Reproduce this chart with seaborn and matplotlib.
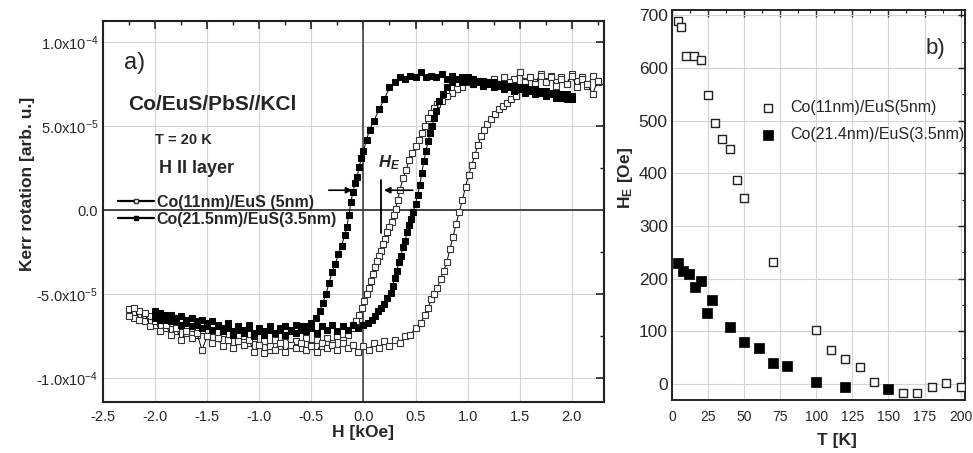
import numpy as np
import matplotlib
matplotlib.use("Agg")
import matplotlib.pyplot as plt
import pandas as pd
import seaborn as sns
from matplotlib.ticker import MultipleLocator

# ---- panel a) Kerr loops, M in units of 1e-5 ----
# Co(11nm)/EuS(5nm), field sweep down
h_11_dn = [2.25, 2.2, 2.15, 2.1, 2.05, 2.0, 1.95, 1.9, 1.85, 1.8, 1.75, 1.7, 1.65, 1.6, 1.55, 1.5, 1.45, 1.4,
           1.35, 1.3, 1.25, 1.2, 1.15, 1.1, 1.05, 1.0, 0.95, 0.9, 0.85, 0.8, 0.75, 0.71, 0.68, 0.65, 0.62, 0.59,
           0.56, 0.53, 0.5, 0.47, 0.44, 0.41, 0.38, 0.35, 0.33, 0.31, 0.29, 0.27, 0.25, 0.23, 0.21, 0.19, 0.17,
           0.15, 0.13, 0.11, 0.09, 0.07, 0.05, 0.03, 0.01, -0.01, -0.04, -0.07, -0.1, -0.15, -0.2, -0.25, -0.3,
           -0.35, -0.4, -0.45, -0.5, -0.55, -0.6, -0.65, -0.7, -0.75, -0.8, -0.85, -0.9, -0.95, -1.0, -1.05,
           -1.1, -1.15, -1.2, -1.25, -1.3, -1.35, -1.4, -1.45, -1.5, -1.55, -1.6, -1.65, -1.7, -1.75, -1.8,
           -1.85, -1.9, -1.95, -2.0, -2.05, -2.1, -2.15, -2.2, -2.25]
m_11_dn = [7.6, 8.0, 7.4, 7.9, 7.7, 8.1, 7.5, 7.9, 7.6, 8.0, 7.7, 8.1, 7.6, 7.9, 7.7, 8.2, 7.8, 7.6,
           7.9, 7.5, 7.8, 7.6, 7.4, 7.7, 7.5, 7.6, 7.3, 7.2, 7.0, 6.8, 6.5, 6.3, 6.1, 5.8, 5.5, 5.0,
           4.6, 4.2, 3.8, 3.4, 3.0, 2.4, 1.9, 1.2, 0.6, 0.1, -0.3, -0.7, -1.0, -1.3, -1.7, -2.0, -2.4,
           -2.7, -3.0, -3.4, -3.8, -4.2, -4.6, -5.0, -5.4, -5.8, -6.2, -6.6, -7.0, -7.4, -7.7, -7.5, -7.9,
           -7.6, -8.1, -7.7, -8.0, -7.6, -8.2, -7.8, -8.0, -7.5, -8.1, -7.7, -8.3, -7.8, -8.0, -7.6,
           -7.9, -7.5, -7.8, -7.4, -7.7, -7.3, -7.6, -7.2, -7.5, -7.1, -7.4, -7.0, -7.3, -6.9, -7.2,
           -6.7, -7.0, -6.5, -6.8, -6.3, -6.6, -6.0, -6.4, -5.9]
# Co(11nm)/EuS(5nm), field sweep up
h_11_up = [-2.25, -2.2, -2.15, -2.1, -2.05, -2.0, -1.95, -1.9, -1.85, -1.8, -1.75, -1.7, -1.65, -1.6, -1.55,
           -1.5, -1.45, -1.4, -1.35, -1.3, -1.25, -1.2, -1.15, -1.1, -1.05, -1.0, -0.95, -0.9, -0.85, -0.8,
           -0.75, -0.7, -0.65, -0.6, -0.55, -0.5, -0.45, -0.4, -0.35, -0.3, -0.25, -0.2, -0.15, -0.1, -0.05,
           0.0, 0.05, 0.1, 0.15, 0.2, 0.25, 0.3, 0.35, 0.4, 0.45, 0.5, 0.55, 0.59, 0.62, 0.65, 0.68, 0.71,
           0.74, 0.77, 0.8, 0.83, 0.86, 0.89, 0.92, 0.95, 0.98, 1.01, 1.04, 1.07, 1.1, 1.13, 1.16, 1.19, 1.22,
           1.26, 1.3, 1.34, 1.38, 1.42, 1.46, 1.5, 1.55, 1.6, 1.65, 1.7, 1.75, 1.8, 1.85, 1.9, 1.95, 2.0,
           2.05, 2.1, 2.15, 2.2, 2.25]
m_11_up = [-6.3, -5.8, -6.5, -6.1, -6.9, -6.6, -7.2, -6.8, -7.4, -7.0, -7.7, -7.2, -7.6, -7.3, -8.3,
           -7.5, -7.9, -7.6, -8.1, -7.7, -8.2, -7.8, -8.0, -7.7, -8.4, -8.0, -8.5, -8.1, -8.3, -7.9,
           -8.4, -8.0, -8.2, -7.9, -8.3, -8.1, -8.4, -7.9, -8.2, -8.0, -8.3, -7.9, -8.2, -8.0, -8.4,
           -8.1, -8.3, -7.9, -8.2, -7.8, -8.1, -7.7, -7.9, -7.5, -7.4, -7.0, -6.7, -6.2, -5.8, -5.3, -5.0, -4.6,
           -4.1, -3.6, -3.1, -2.3, -1.6, -0.8, -0.1, 0.6, 1.4, 2.1, 2.7, 3.3, 3.9, 4.4, 4.8, 5.1, 5.4,
           5.7, 6.0, 6.2, 6.4, 6.6, 6.8, 7.2, 7.6, 7.9, 7.5, 8.0, 7.6, 7.9, 7.4, 7.8, 7.5, 8.0,
           7.3, 7.8, 7.5, 6.9, 7.7]

# Co(21.5nm)/EuS(3.5nm), field sweep down
h_21_dn = [2.0, 1.95, 1.9, 1.85, 1.8, 1.75, 1.7, 1.65, 1.6, 1.55, 1.5, 1.45, 1.4, 1.35, 1.3, 1.25, 1.2, 1.15,
           1.1, 1.05, 1.0, 0.95, 0.9, 0.85, 0.8, 0.75, 0.7, 0.65, 0.6, 0.55, 0.5, 0.45, 0.4, 0.35, 0.3, 0.25,
           0.2, 0.15, 0.1, 0.06, 0.03, 0.0, -0.02, -0.04, -0.06, -0.08, -0.1, -0.12, -0.14, -0.16, -0.18,
           -0.21, -0.24, -0.27, -0.3, -0.33, -0.36, -0.39, -0.42, -0.46, -0.5, -0.55, -0.6, -0.65, -0.7,
           -0.75, -0.8, -0.85, -0.9, -0.95, -1.0, -1.05, -1.1, -1.15, -1.2, -1.25, -1.3, -1.35, -1.4, -1.45,
           -1.5, -1.55, -1.6, -1.65, -1.7, -1.75, -1.8, -1.85, -1.9, -1.95, -2.0]
m_21_dn = [6.6, 6.9, 6.7, 7.0, 6.9, 7.1, 7.0, 7.2, 7.1, 7.3, 7.2, 7.4, 7.3, 7.5, 7.4, 7.6, 7.5, 7.7,
           7.6, 7.8, 7.7, 7.9, 7.8, 8.0, 7.8, 8.1, 7.9, 8.0, 7.9, 8.2, 7.9, 8.0, 7.8, 7.9, 7.6, 7.3,
           6.6, 6.0, 5.3, 4.8, 4.2, 3.5, 3.1, 2.6, 2.0, 1.6, 1.1, 0.5, -0.3, -1.0, -1.5,
           -2.1, -2.6, -3.2, -3.7, -4.3, -5.0, -5.5, -6.0, -6.4, -6.7, -6.9, -7.1, -6.8, -7.2,
           -6.9, -7.1, -7.3, -6.9, -7.2, -7.0, -7.3, -6.8, -7.1, -6.9, -7.2, -6.7, -7.0, -6.8, -6.6,
           -6.9, -6.5, -6.8, -6.4, -6.7, -6.3, -6.6, -6.2, -6.5, -6.1, -6.4]
# Co(21.5nm)/EuS(3.5nm), field sweep up
h_21_up = [-2.0, -1.95, -1.9, -1.85, -1.8, -1.75, -1.7, -1.65, -1.6, -1.55, -1.5, -1.45, -1.4, -1.35, -1.3,
           -1.25, -1.2, -1.15, -1.1, -1.05, -1.0, -0.95, -0.9, -0.85, -0.8, -0.75, -0.7, -0.65, -0.6, -0.55,
           -0.5, -0.45, -0.4, -0.35, -0.3, -0.25, -0.2, -0.15, -0.1, -0.05, 0.0, 0.04, 0.08, 0.11, 0.14,
           0.17, 0.2, 0.23, 0.26, 0.28, 0.3, 0.32, 0.34, 0.36, 0.38, 0.4, 0.42, 0.44, 0.46, 0.48, 0.5,
           0.52, 0.54, 0.56, 0.58, 0.6, 0.62, 0.64, 0.66, 0.68, 0.7, 0.73, 0.76, 0.8, 0.85, 0.9, 0.95,
           1.0, 1.05, 1.1, 1.15, 1.2, 1.25, 1.3, 1.35, 1.4, 1.45, 1.5, 1.55, 1.6, 1.65, 1.7, 1.75, 1.8,
           1.85, 1.9, 1.95, 2.0]
m_21_up = [-6.0, -6.5, -6.2, -6.6, -6.4, -6.8, -6.5, -6.9, -6.6, -7.0, -6.7, -7.1, -6.9, -7.2, -7.0,
           -7.4, -7.1, -7.3, -7.0, -7.5, -7.2, -7.4, -7.1, -7.3, -7.0, -7.4, -7.1, -7.3, -6.9, -7.2,
           -7.0, -7.3, -6.9, -7.1, -6.8, -7.2, -6.9, -7.1, -6.8, -7.0, -6.8, -6.7, -6.5, -6.3, -6.0,
           -5.8, -5.6, -5.2, -4.9, -4.5, -4.0, -3.6, -3.1, -2.7, -2.2, -1.8, -1.3, -0.9, -0.5, -0.1, 0.4,
           0.9, 1.5, 2.2, 2.9, 3.5, 4.1, 4.6, 5.0, 5.5, 5.9, 6.5, 6.9, 7.3, 7.6, 7.8, 7.6,
           7.9, 7.5, 7.7, 7.4, 7.6, 7.3, 7.5, 7.2, 7.4, 7.1, 7.3, 7.0, 7.2, 6.9, 7.1, 6.8, 7.0,
           6.7, 6.9, 6.6, 6.8]

# ---- panel b) exchange field vs temperature ----
t_11 = [4, 6, 10, 15, 20, 25, 30, 35, 40, 45, 50, 70, 100, 110, 120, 130, 140, 160, 170, 180, 190, 200]
he_11 = [690, 677, 622, 622, 616, 548, 495, 466, 447, 388, 354, 232, 102, 64, 47, 32, 5, -16, -16, -6, 3, -6]
t_21 = [4, 8, 12, 16, 20, 24, 28, 40, 50, 60, 70, 80, 100, 120, 150]
he_21 = [229, 214, 209, 184, 195, 135, 160, 109, 80, 69, 40, 35, 4, -6, -9]

label_11 = "Co(11nm)/EuS (5nm)"
label_21 = "Co(21.5nm)/EuS(3.5nm)"

sns.set_style("white")
plt.rcParams["font.family"] = ["Liberation Sans", "DejaVu Sans"]
plt.rcParams["mathtext.fontset"] = "custom"
plt.rcParams["mathtext.rm"] = "Liberation Sans"
plt.rcParams["mathtext.it"] = "Liberation Sans:italic:bold"
plt.rcParams["mathtext.bf"] = "Liberation Sans:bold"

fig = plt.figure(figsize=(9.73, 4.53), dpi=100)
ax1 = fig.add_axes([0.1059, 0.1126, 0.5149, 0.841])
ax2 = fig.add_axes([0.6906, 0.117, 0.3011, 0.861])

grid_kw = dict(color="#d4d4d4", linewidth=0.8)

# ---------------- panel a ----------------
loops = pd.concat([
    pd.DataFrame({"H": h_11_dn, "M": m_11_dn, "run": "11dn"}),
    pd.DataFrame({"H": h_11_up, "M": m_11_up, "run": "11up"}),
    pd.DataFrame({"H": h_21_dn, "M": m_21_dn, "run": "21dn"}),
    pd.DataFrame({"H": h_21_up, "M": m_21_up, "run": "21up"}),
])

ax1.axhline(0, color="#444444", lw=1.4, zorder=1)
ax1.axvline(0, color="#444444", lw=1.2, zorder=1)

for run in ["11dn", "11up"]:
    sns.lineplot(data=loops[loops.run == run], x="H", y="M", sort=False, estimator=None, ax=ax1,
                 color="black", lw=0.7, marker="s", markersize=4.6, markerfacecolor="white",
                 markeredgecolor="#333333", markeredgewidth=0.8, zorder=3)
for run in ["21dn", "21up"]:
    sns.lineplot(data=loops[loops.run == run], x="H", y="M", sort=False, estimator=None, ax=ax1,
                 color="black", lw=0.7, marker="s", markersize=4.8, markerfacecolor="black",
                 markeredgecolor="black", zorder=4)

ax1.set_xlim(-2.5, 2.31)
ax1.set_ylim(-11.4, 11.25)
ax1.xaxis.set_minor_locator(MultipleLocator(0.25))
ax1.set_xticks([-2.5, -2.0, -1.5, -1.0, -0.5, 0.0, 0.5, 1.0, 1.5, 2.0],
               ["-2.5", "-2.0", "-1.5", "-1.0", "-0.5", "0.0", "0.5", "1.0", "1.5", "2.0"])
ax1.set_yticks([-10, -5, 0, 5, 10],
               ["-1.0x10$^{-4}$", "-5.0x10$^{-5}$", "0.0", "5.0x10$^{-5}$", "1.0x10$^{-4}$"])
ax1.yaxis.set_minor_locator(MultipleLocator(2.5))
ax1.grid(True, which="major", **grid_kw)
ax1.set_axisbelow(True)
ax1.tick_params(which="both", direction="in", top=True, right=True, labelsize=10.5, color="#222222")
ax1.tick_params(which="major", length=6, width=1.2)
ax1.tick_params(which="minor", length=3, width=1.0)
ax1.tick_params(axis="x", pad=6)
for s in ax1.spines.values():
    s.set_linewidth(1.5)
    s.set_color("#222222")
ax1.set_xlabel("H [kOe]", fontsize=12.5, fontweight="bold")
ax1.set_ylabel("Kerr rotation [arb. u.]", fontsize=12.5, fontweight="bold")
ax1.xaxis.set_label_coords(0.519, -0.06)
ax1.yaxis.set_label_coords(-0.135, 0.572)

ax1.text(0.042, 0.89, "a)", transform=ax1.transAxes, fontsize=17, va="center")
ax1.text(0.05, 0.78, "Co/EuS/PbS//KCl", transform=ax1.transAxes, fontsize=15, fontweight="bold", va="center")
ax1.text(0.104, 0.687, "T = 20 K", transform=ax1.transAxes, fontsize=10.5, fontweight="bold", va="center")
ax1.text(0.112, 0.613, "H II layer", transform=ax1.transAxes, fontsize=13, fontweight="bold", va="center")

# exchange-bias marker
ax1.text(0.14, 2.8, "$H_E$", fontsize=12, va="center")
ax1.annotate("", xy=(-0.08, 1.19), xytext=(-0.36, 1.19),
             arrowprops=dict(arrowstyle="-|>", color="black", lw=1.2, mutation_scale=9))
ax1.annotate("", xy=(0.17, 1.19), xytext=(0.5, 1.19),
             arrowprops=dict(arrowstyle="-|>", color="black", lw=1.2, mutation_scale=9))
ax1.plot([0.17, 0.17], [1.8, -1.35], color="black", lw=1.3)

handles = [
    plt.Line2D([], [], color="black", lw=1.6, marker="s", markersize=3.2, markerfacecolor="white",
               markeredgecolor="#333333"),
    plt.Line2D([], [], color="black", lw=1.6, marker="s", markersize=3.2, markerfacecolor="black"),
]
ax1.legend(handles, [label_11, label_21], loc="upper left", bbox_to_anchor=(0.018, 0.56), frameon=False,
           prop=dict(weight="bold", size=11.5), handlelength=2.2, handletextpad=0.2, labelspacing=0.12,
           borderaxespad=0)

# ---------------- panel b ----------------
he = pd.concat([
    pd.DataFrame({"T": t_11, "HE": he_11, "sample": "Co(11nm)/EuS(5nm)"}),
    pd.DataFrame({"T": t_21, "HE": he_21, "sample": "Co(21.4nm)/EuS(3.5nm)"}),
])
sns.scatterplot(data=he[he["sample"] == "Co(11nm)/EuS(5nm)"], x="T", y="HE", ax=ax2, marker="s", s=26,
                facecolor="white", edgecolor="#222222", linewidth=1.0, label="Co(11nm)/EuS(5nm)", zorder=3)
sns.scatterplot(data=he[he["sample"] == "Co(21.4nm)/EuS(3.5nm)"], x="T", y="HE", ax=ax2, marker="s", s=42,
                color="black", edgecolor="black", linewidth=0.5, label="Co(21.4nm)/EuS(3.5nm)", zorder=3)

ax2.set_xlim(0, 203)
ax2.set_ylim(-30, 710)
ax2.xaxis.set_major_locator(MultipleLocator(25))
ax2.xaxis.set_minor_locator(MultipleLocator(12.5))
ax2.yaxis.set_major_locator(MultipleLocator(100))
ax2.yaxis.set_minor_locator(MultipleLocator(50))
ax2.grid(True, which="major", **grid_kw)
ax2.set_axisbelow(True)
ax2.tick_params(which="both", direction="in", top=True, right=True, color="#222222")
ax2.tick_params(which="major", length=5, width=1.0)
ax2.tick_params(which="minor", length=2.5, width=0.8)
ax2.tick_params(axis="x", labelsize=10, pad=7)
ax2.tick_params(axis="y", labelsize=12.5, pad=3)
for s in ax2.spines.values():
    s.set_linewidth(1.4)
    s.set_color("#222222")
ax2.set_xlabel("T [K]", fontsize=12.5, fontweight="bold")
ax2.set_ylabel("H$_\\mathbf{E}$ [Oe]", fontsize=12.5, fontweight="bold")
ax2.xaxis.set_label_coords(0.563, -0.085)
ax2.yaxis.set_label_coords(-0.125, 0.569)
ax2.text(0.9, 0.9, "b)", transform=ax2.transAxes, fontsize=16, va="center", ha="center")
ax2.legend(loc="upper left", bbox_to_anchor=(0.25, 0.785), frameon=False,
           prop=dict(size=11.5), handletextpad=0.4, labelspacing=0.75, borderaxespad=0,
           markerscale=1.0)

fig.savefig("out.png", dpi=100)
